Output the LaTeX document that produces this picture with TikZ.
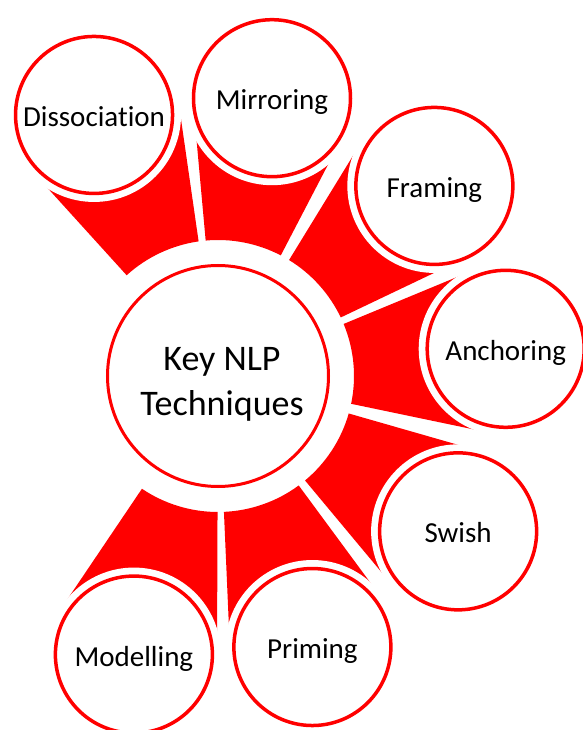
\documentclass[tikz,border=0pt]{standalone}
\usepackage{fontspec}
\setmainfont[Ligatures=NoCommon]{Carlito}

\tikzset{
  hub/.style={circle, draw=red, line width=3pt, fill=white, minimum size=221pt, inner sep=0pt},
  spoke/.style={circle, draw=red, line width=3.5pt, fill=white, minimum size=157pt, inner sep=0pt,
    text height=23pt, text depth=0pt, font=\fontsize{29}{34}\selectfont,
    preaction={draw=white, line width=17pt}},
  petal/.style={fill=red}
}

\begin{document}
\begin{tikzpicture}[x=1pt, y=1pt]
  \useasboundingbox (-218,-354) rectangle (364,376);
  \node[hub] (key) at (0,0) {};
  \node[align=center, font=\fontsize{36}{45}\selectfont] (keytext) at (4,-8) {Key NLP\\Techniques};

  % red petals between the hub and the outer circles
  \foreach \a/\b in {98.2/132.2, 62.5/95.2, 25.5/58.5, -11.8/22.5, -50.2/-16, -87.5/-53.6, -124/-90.2} {
    \fill[petal] (\a:136) arc[start angle=\a, end angle=\b, radius=136]
      -- (\b:272) arc[start angle=\b, end angle=\a, radius=272] -- cycle;
  }

  % outer circles
  \foreach \n/\ang/\d/\t in {dissoc/115.4/289/Dissociation, mirror/79/283/Mirroring,
      framing/41.3/288/Framing, anchor/5.4/289/Anchoring, swish/-32.9/286/Swish,
      priming/-70.8/287/Priming, modelling/-106.8/291/Modelling} {
    \node[spoke] (\n) at (\ang:\d) {\t};
  }
\end{tikzpicture}
\end{document}
